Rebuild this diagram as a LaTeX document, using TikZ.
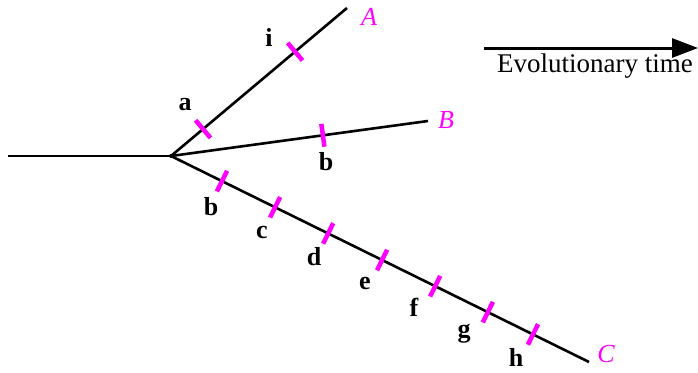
\documentclass[tikz,border=0pt]{standalone}
\usepackage{fontspec}
\setmainfont{Liberation Serif}
\usetikzlibrary{arrows.meta}
\definecolor{mag}{HTML}{FF00FF}
\begin{document}
\begin{tikzpicture}[x=1pt,y=-1pt,
  branch/.style={line width=2.6pt,black},
  tick/.style={sloped,fill=mag,draw=none,rectangle,minimum width=4.5pt,minimum height=23pt,inner sep=0pt,outer sep=0pt},
  lab/.style={font=\fontsize{26}{26}\selectfont\bfseries,inner sep=0pt},
  tip/.style={font=\fontsize{26}{26}\selectfont\itshape,text=mag,inner sep=0pt}]
\useasboundingbox (0,0) rectangle (698,372);
\coordinate (start) at (8,156);
\coordinate (root) at (171,156);
\coordinate (tA) at (347,8);
\coordinate (tB) at (428,121);
\coordinate (tC) at (589,362);
\draw[branch] (start) -- (root);
\draw[branch] (root) -- (tA)
  node[tick,pos=0.182] (ta) {}
  node[tick,pos=0.705] (ti) {};
\draw[branch] (root) -- (tB)
  node[tick,pos=0.591] (tbB) {};
\draw[branch] (root) -- (tC)
  node[tick,pos=0.122] (tb) {}
  node[tick,pos=0.249] (tc) {}
  node[tick,pos=0.376] (td) {}
  node[tick,pos=0.505] (te) {}
  node[tick,pos=0.632] (tf) {}
  node[tick,pos=0.758] (tg) {}
  node[tick,pos=0.866] (th) {};
\fill (root) circle (2pt);
\node[tip] (A) at (369,17) {A};
\node[tip] (B) at (446,120) {B};
\node[tip] (C) at (606,354) {C};
\node[lab] (la) at (185,105) {a};
\node[lab] (li) at (269,37) {i};
\node[lab] (lbB) at (326,162) {b};
\node[lab] (lb) at (211,207) {b};
\node[lab] (lc) at (262,232) {c};
\node[lab] (ld) at (314,257) {d};
\node[lab] (le) at (365,284) {e};
\node[lab] (lf) at (414,307) {f};
\node[lab] (lg) at (464,334) {g};
\node[lab] (lh) at (516,357) {h};
\coordinate (ar0) at (484,48);
\coordinate (ar1) at (698,48);
\draw[line width=3pt,-{Triangle[length=26pt,width=19pt]}] (ar0) -- (ar1);
\node[font=\fontsize{27}{27}\selectfont,inner sep=0pt] (evo) at (595,66) {Evolutionary time};
\end{tikzpicture}
\end{document}
